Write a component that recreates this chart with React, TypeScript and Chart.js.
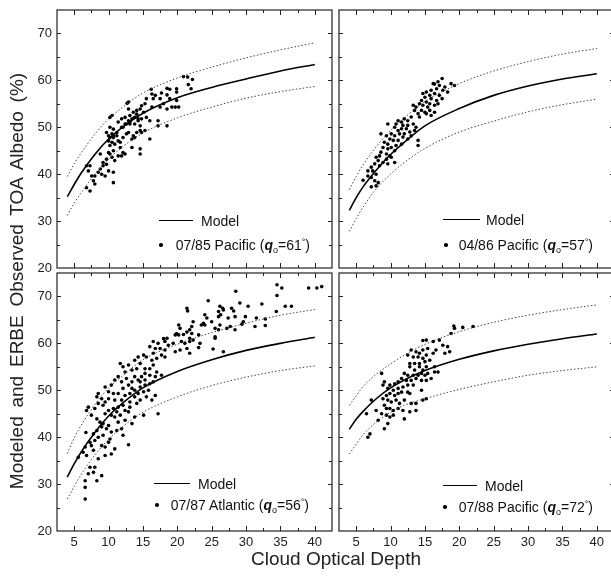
import React, { useEffect, useRef } from 'react';
import { Chart, registerables } from 'chart.js';

Chart.register(...registerables);

// ---------- shared axis data ----------
const MODEL_X = [4, 5, 6, 8, 10, 12, 15, 20, 25, 30, 35, 40];
const X_TICK_LABELS = [5, 10, 15, 20, 25, 30, 35, 40];
const Y_TICK_LABELS = [20, 30, 40, 50, 60, 70];
const X_RANGE = [2.5, 42.5];
const Y_RANGE = [20, 75];

// ---------- 07/85 Pacific (q=61) ----------
const MODEL_85 = [35.2, 37.8, 40.2, 44.2, 47.5, 50.0, 53.0, 56.3, 58.5, 60.3, 62.0, 63.4];
const UPPER_85 = [39.5, 42.2, 44.5, 48.5, 51.8, 54.2, 57.3, 60.5, 62.8, 64.8, 66.5, 68.0];
const LOWER_85 = [31.2, 33.8, 36.0, 40.0, 43.2, 45.8, 48.8, 52.0, 54.3, 56.2, 57.6, 58.7];
const OBS_85: number[][] = [
  [20.9, 60.8], [21.5, 60.7], [22.2, 60.2], [21.6, 59.1], [22.0, 58.2], [16.2, 58.1], [18.5, 58.3], [18.9, 58.1],
  [19.9, 58.2], [19.9, 57.5], [16.3, 57.1], [16.8, 56.8], [17.7, 57.3], [18.5, 56.9], [15.5, 56.1], [16.5, 56.1],
  [17.5, 56.1], [18.9, 56.1], [19.9, 55.7], [19.7, 54.3], [20.2, 54.3], [19.2, 54.3], [18.5, 53.9], [18.0, 55.0],
  [17.5, 54.3], [16.3, 54.3], [15.3, 55.0], [14.8, 54.6], [14.6, 53.9], [15.1, 53.2], [14.1, 53.6], [13.6, 53.2],
  [13.1, 52.5], [12.9, 53.9], [12.7, 55.1], [13.8, 52.1], [14.3, 51.8], [14.8, 51.8], [13.4, 51.8], [12.9, 51.4],
  [12.4, 52.1], [11.9, 51.8], [11.4, 51.1], [12.4, 50.7], [13.1, 50.7], [13.8, 50.7], [14.3, 51.4], [14.6, 50.3],
  [16.0, 51.4], [15.3, 49.3], [14.8, 48.9], [14.1, 48.9], [13.6, 48.2], [13.4, 47.5], [12.9, 48.9], [12.6, 48.6],
  [12.1, 50.0], [11.9, 50.0], [10.7, 49.6], [10.2, 50.0], [10.5, 48.6], [10.7, 48.2], [10.0, 48.2], [10.7, 47.8],
  [11.2, 48.2], [11.4, 47.1], [10.9, 46.4], [10.5, 46.8], [10.2, 46.1], [10.0, 47.1], [11.7, 46.8], [11.7, 45.7],
  [12.1, 44.6], [11.4, 43.9], [10.7, 45.0], [10.2, 44.3], [10.0, 44.6], [10.5, 43.6], [10.9, 42.9], [9.7, 43.2],
  [8.8, 44.3], [9.2, 42.5], [9.7, 42.1], [8.5, 40.4], [8.0, 39.6], [9.0, 40.0], [9.5, 39.6], [10.0, 40.7],
  [10.7, 40.4], [10.7, 38.2], [7.55, 39.6], [6.8, 41.8], [7.06, 40.7], [7.8, 38.6], [8.0, 37.9], [7.3, 36.4],
  [6.8, 37.1], [10.2, 52.1], [10.5, 52.5], [12.6, 50.7], [17.2, 50.3], [18.5, 50.3], [13.4, 45.7], [14.6, 45.4],
  [14.6, 44.3], [16.0, 47.5], [17.2, 51.4], [14.6, 49.3], [13.8, 47.8], [11.9, 43.9], [12.4, 44.3], [7.3, 41.8],
  [8.8, 41.1], [9.2, 41.8], [11.2, 48.9], [12.1, 47.8], [13.1, 51.1], [14.1, 52.8], [15.5, 52.1], [9.7, 48.9],
  [10.2, 47.8], [12.9, 55.4],
];

// ---------- 04/86 Pacific (q=57) ----------
const MODEL_86 = [32.3, 35.0, 37.3, 41.0, 44.2, 46.8, 50.3, 54.0, 56.8, 58.8, 60.3, 61.4];
const UPPER_86 = [36.7, 39.5, 42.0, 46.0, 49.3, 52.0, 55.5, 59.3, 62.0, 64.0, 65.6, 66.8];
const LOWER_86 = [27.8, 30.5, 33.0, 37.0, 40.0, 42.5, 45.5, 49.0, 51.3, 53.3, 54.8, 56.0];
const OBS_86: number[][] = [
  [17.5, 60.4], [16.9, 59.7], [16.4, 59.2], [17.1, 58.9], [17.9, 58.6], [17.6, 57.9], [16.7, 58.2], [15.9, 57.9],
  [15.2, 57.5], [15.7, 56.8], [16.4, 57.2], [17.1, 56.8], [17.5, 56.1], [16.7, 55.7], [15.9, 56.1], [15.0, 56.4],
  [14.5, 55.7], [15.2, 55.4], [15.7, 55.0], [16.4, 54.7], [15.4, 54.3], [14.7, 54.7], [14.2, 55.0], [13.7, 54.3],
  [14.5, 53.6], [15.0, 53.2], [15.7, 53.6], [16.4, 53.2], [14.0, 52.9], [13.5, 53.6], [13.3, 54.7], [18.8, 59.3],
  [19.3, 58.9], [18.3, 57.5], [16.2, 59.3], [14.7, 57.2], [16.9, 55.0], [15.2, 52.9], [14.2, 52.2], [15.9, 52.5],
  [13.0, 52.2], [12.5, 51.4], [12.0, 51.8], [11.6, 51.1], [11.1, 51.4], [11.8, 50.4], [12.5, 50.4], [13.3, 50.7],
  [13.7, 50.0], [12.3, 49.7], [11.6, 49.7], [11.1, 49.3], [10.6, 50.0], [10.8, 50.7], [12.8, 49.0], [12.0, 48.6],
  [11.3, 48.6], [10.6, 48.2], [10.1, 48.6], [9.6, 50.7], [8.6, 48.6], [9.4, 48.2], [9.9, 47.5], [10.4, 47.2],
  [11.1, 47.2], [11.8, 47.9], [12.5, 47.5], [11.6, 46.4], [10.8, 46.1], [10.1, 45.7], [10.6, 45.0], [9.6, 46.4],
  [9.1, 46.8], [8.9, 45.7], [9.6, 45.4], [9.4, 44.3], [9.9, 43.9], [8.6, 44.7], [8.4, 43.9], [7.9, 43.6],
  [8.2, 42.9], [7.7, 42.2], [7.2, 41.5], [6.7, 40.7], [7.4, 40.7], [8.4, 41.8], [8.9, 42.5], [9.4, 43.2],
  [10.1, 43.6], [10.6, 42.5], [9.6, 42.2], [7.9, 40.0], [7.2, 39.3], [7.7, 38.6], [7.9, 37.5], [8.2, 38.2],
  [6.7, 39.6], [14.0, 47.2], [14.0, 46.1], [13.0, 48.2], [13.5, 49.3], [6.0, 38.7], [7.2, 37.3],
];

// ---------- 07/87 Atlantic (q=56) ----------
const MODEL_87 = [31.5, 34.3, 36.8, 41.0, 44.5, 47.2, 50.5, 54.0, 56.5, 58.5, 60.0, 61.3];
const UPPER_87 = [36.5, 39.8, 42.5, 47.0, 50.5, 53.0, 56.5, 59.8, 62.3, 64.3, 66.0, 67.2];
const LOWER_87 = [26.8, 29.5, 32.0, 36.2, 39.5, 42.2, 45.3, 48.6, 51.0, 52.8, 54.2, 55.2];
const OBS_87: number[][] = [
  [16.5, 60.4], [17.2, 60.0], [18.2, 60.4], [18.7, 59.6], [19.4, 60.0], [20.6, 60.4], [21.1, 60.0], [21.8, 60.4],
  [21.4, 58.9], [21.8, 57.9], [20.4, 58.6], [19.7, 58.2], [18.2, 58.6], [17.5, 58.9], [16.8, 58.9], [16.0, 59.3],
  [16.5, 57.9], [17.7, 57.5], [18.2, 57.1], [17.0, 56.8], [16.3, 56.4], [15.5, 57.1], [15.1, 57.5], [14.3, 57.1],
  [13.8, 56.4], [12.9, 55.4], [12.1, 55.0], [11.7, 55.7], [12.4, 53.9], [13.4, 54.3], [14.1, 54.6], [14.6, 55.7],
  [15.3, 54.6], [16.0, 54.6], [16.5, 55.4], [17.0, 53.9], [17.7, 53.2], [16.8, 52.9], [16.0, 53.2], [15.3, 53.6],
  [14.8, 52.9], [14.3, 52.2], [13.8, 52.9], [13.4, 51.8], [12.9, 51.1], [12.6, 52.5], [11.9, 51.8], [11.4, 52.9],
  [10.9, 52.2], [10.4, 51.1], [9.5, 50.7], [8.5, 49.3], [8.3, 48.6], [9.0, 48.2], [9.5, 47.5], [10.0, 48.2],
  [10.9, 47.9], [11.9, 47.9], [12.4, 48.9], [13.1, 49.3], [13.8, 50.0], [13.4, 50.4], [14.6, 50.7], [15.3, 51.1],
  [16.0, 51.4], [16.5, 51.8], [15.8, 50.0], [15.1, 49.7], [14.3, 49.3], [13.8, 48.6], [13.1, 47.5], [12.1, 46.8],
  [11.4, 46.4], [10.7, 46.1], [10.0, 45.7], [9.2, 46.8], [8.5, 47.2], [8.0, 46.1], [7.05, 46.4], [6.8, 45.7],
  [7.5, 44.7], [8.3, 43.9], [8.75, 43.2], [9.2, 42.9], [10.0, 42.5], [9.5, 45.0], [10.4, 44.7], [11.2, 45.4],
  [11.7, 44.7], [12.9, 45.4], [13.8, 44.3], [17.2, 45.0], [15.1, 44.7], [9.7, 41.8], [9.0, 42.2], [8.3, 41.4],
  [7.8, 40.7], [8.5, 40.0], [9.2, 40.4], [10.4, 41.1], [10.2, 39.6], [11.2, 41.4], [12.1, 40.4], [10.0, 38.9],
  [9.5, 37.9], [9.0, 38.2], [8.0, 39.3], [7.5, 38.2], [7.3, 38.9], [6.6, 37.9], [6.3, 36.8], [6.8, 36.1],
  [7.8, 37.2], [9.5, 36.1], [10.4, 36.4], [10.9, 37.5], [12.9, 38.4], [8.5, 35.4], [7.3, 33.6], [8.0, 33.6],
  [7.8, 32.5], [7.05, 32.2], [9.0, 31.8], [8.3, 30.7], [6.6, 30.7], [6.6, 29.3], [6.6, 26.8], [5.6, 35.7],
  [10.9, 44.3], [11.4, 43.2], [12.4, 43.6], [13.4, 42.9], [11.9, 41.8], [10.7, 49.3], [10.0, 49.7], [14.1, 47.2],
  [14.6, 47.9], [15.5, 48.6], [16.3, 47.9], [16.8, 48.9], [13.1, 46.4], [12.4, 45.7], [11.4, 49.3], [12.1, 50.4],
  [14.6, 51.8], [15.3, 52.2], [6.7, 41.0],
  [34.5, 72.5], [35.2, 71.8], [34.5, 70.2], [39.1, 71.8], [40.3, 71.8], [41.0, 72.1], [28.5, 71.1], [24.5, 69.1],
  [21.4, 67.5], [21.5, 66.9], [29.1, 68.6], [30.3, 67.9], [32.3, 68.4], [26.2, 67.9], [26.6, 67.5], [26.7, 67.1],
  [26.0, 66.8], [27.9, 67.5], [28.2, 66.9], [26.3, 66.1], [26.0, 65.7], [24.0, 66.1], [24.3, 65.4], [27.4, 65.4],
  [28.4, 65.7], [29.9, 65.7], [31.5, 65.4], [32.8, 65.2], [34.4, 66.8], [35.7, 67.9], [36.6, 67.9], [22.3, 64.6],
  [23.8, 64.3], [24.0, 63.9], [23.5, 63.9], [25.0, 64.6], [26.2, 63.9], [27.7, 63.6], [28.4, 62.9], [29.6, 64.6],
  [29.4, 64.1], [31.3, 63.6], [20.2, 63.9], [20.4, 63.2], [22.1, 63.6], [21.8, 62.9], [25.5, 63.2], [26.0, 62.9],
  [27.2, 63.2], [25.5, 61.4], [25.5, 61.1], [19.9, 62.1], [19.7, 61.8], [20.2, 61.8], [20.9, 61.9], [21.4, 62.4],
  [22.1, 62.1], [23.1, 61.8], [22.3, 60.7], [21.8, 61.1], [23.3, 60.0], [23.1, 59.1], [25.2, 58.8], [26.7, 58.2],
  [18.5, 61.1], [18.0, 61.0], [32.8, 63.8],
];

// ---------- 07/88 Pacific (q=72) ----------
const MODEL_88 = [41.7, 43.8, 45.5, 48.3, 50.5, 52.2, 54.2, 56.6, 58.4, 59.8, 61.0, 62.0];
const UPPER_88 = [46.8, 48.8, 50.8, 53.5, 55.6, 57.5, 59.8, 62.5, 64.5, 66.0, 67.2, 68.2];
const LOWER_88 = [36.4, 38.5, 40.5, 43.3, 45.3, 46.8, 48.2, 50.2, 51.8, 53.2, 54.2, 55.0];
const OBS_88: number[][] = [
  [19.2, 63.7], [19.3, 63.2], [20.5, 63.4], [22.0, 63.6], [18.8, 62.1], [14.7, 60.6], [15.2, 60.7], [16.2, 60.4],
  [17.1, 60.7], [17.6, 59.6], [18.3, 59.3], [17.9, 57.9], [18.6, 58.2], [16.6, 58.6], [16.2, 57.9], [15.4, 58.9],
  [14.7, 58.6], [14.2, 57.9], [13.7, 58.2], [13.0, 58.6], [12.5, 57.5], [13.3, 57.1], [14.0, 57.1], [14.7, 56.8],
  [15.2, 57.5], [15.7, 56.4], [15.0, 56.1], [14.2, 55.7], [13.5, 55.7], [12.8, 55.7], [16.4, 55.0], [15.2, 55.0],
  [14.7, 54.3], [14.2, 55.0], [13.5, 54.3], [12.8, 55.0], [12.0, 53.6], [12.5, 53.2], [13.3, 53.2], [14.0, 53.2],
  [14.5, 53.6], [15.0, 53.2], [15.4, 53.6], [16.4, 53.9], [16.9, 53.9], [15.9, 52.5], [15.2, 52.1], [14.5, 52.1],
  [13.7, 52.5], [13.0, 52.1], [12.3, 52.1], [11.6, 52.5], [11.1, 51.8], [10.6, 51.4], [9.9, 51.1], [9.1, 51.8],
  [8.9, 51.1], [9.6, 50.4], [10.4, 50.0], [11.1, 50.4], [11.8, 50.7], [12.5, 51.1], [13.3, 51.1], [11.6, 49.6],
  [12.5, 49.6], [12.8, 49.3], [14.5, 50.0], [11.1, 49.3], [10.6, 48.9], [9.9, 49.3], [9.4, 48.9], [8.9, 48.2],
  [9.6, 47.9], [10.1, 47.5], [10.8, 47.9], [11.3, 47.2], [12.0, 47.9], [13.0, 47.2], [13.7, 47.2], [14.7, 47.9],
  [15.2, 48.2], [9.1, 46.8], [9.4, 46.1], [9.9, 46.1], [10.4, 45.7], [11.1, 46.1], [11.8, 45.7], [12.8, 45.4],
  [13.7, 45.7], [8.7, 45.0], [9.4, 44.7], [9.9, 44.3], [10.4, 44.7], [12.0, 43.9], [7.9, 45.7], [8.2, 43.6],
  [7.2, 47.9], [8.7, 53.6], [9.6, 42.9], [9.1, 41.8], [7.0, 40.7], [6.7, 40.0], [6.5, 45.0],
];

type Panel = {
  left: number; top: number; yLabels: boolean; xLabels: boolean;
  model: number[]; upper: number[]; lower: number[]; obs: number[][];
  legend: { lx1: number; lx2: number; ly: number; mx: number; dx: number; dy: number; textRight: number;
    prefix: string; angle: string };
};

const PANELS: Panel[] = [
  { left: 57, top: 10, yLabels: true, xLabels: false, model: MODEL_85, upper: UPPER_85, lower: LOWER_85, obs: OBS_85,
    legend: { lx1: 159, lx2: 193, ly: 221, mx: 201, dx: 161, dy: 245, textRight: 310, prefix: '07/85 Pacific (', angle: '61' } },
  { left: 339, top: 10, yLabels: false, xLabels: false, model: MODEL_86, upper: UPPER_86, lower: LOWER_86, obs: OBS_86,
    legend: { lx1: 443, lx2: 480, ly: 220, mx: 486, dx: 446, dy: 245, textRight: 593, prefix: '04/86 Pacific (', angle: '57' } },
  { left: 57, top: 273, yLabels: true, xLabels: true, model: MODEL_87, upper: UPPER_87, lower: LOWER_87, obs: OBS_87,
    legend: { lx1: 154, lx2: 190, ly: 484, mx: 198, dx: 157, dy: 505, textRight: 309, prefix: '07/87 Atlantic (', angle: '56' } },
  { left: 339, top: 273, yLabels: false, xLabels: true, model: MODEL_88, upper: UPPER_88, lower: LOWER_88, obs: OBS_88,
    legend: { lx1: 443, lx2: 477, ly: 486, mx: 485, dx: 445, dy: 507, textRight: 593, prefix: '07/88 Pacific (', angle: '72' } },
];

const FONT = '"Liberation Sans", Arial, Helvetica, sans-serif';
const PW = 275; // plot width
const PH = 258; // plot height
const PAD_L = 80, PAD_T = 20, PAD_R = 20, PAD_B = 60;

const framePlugin = {
  id: 'frameTicks',
  afterDatasetsDraw(chart: any) {
    const { ctx, chartArea: a, scales } = chart;
    const xs = scales.x, ys = scales.y;
    ctx.save();
    ctx.strokeStyle = '#222';
    ctx.lineWidth = 1.2;
    ctx.strokeRect(a.left, a.top, a.right - a.left, a.bottom - a.top);
    ctx.lineWidth = 1;
    ctx.beginPath();
    for (let v = X_RANGE[0] + 2.5; v < X_RANGE[1] - 0.01; v += 2.5) {
      const px = Math.round(xs.getPixelForValue(v)) + 0.5;
      const len = Math.abs(v % 5) < 0.01 ? 5 : 3;
      ctx.moveTo(px, a.top); ctx.lineTo(px, a.top + len);
      ctx.moveTo(px, a.bottom); ctx.lineTo(px, a.bottom - len);
    }
    for (let v = Y_RANGE[0] + 5; v < Y_RANGE[1] - 0.01; v += 5) {
      const py = Math.round(ys.getPixelForValue(v)) + 0.5;
      const len = Math.abs(v % 10) < 0.01 ? 4 : 3;
      ctx.moveTo(a.left, py); ctx.lineTo(a.left + len, py);
      ctx.moveTo(a.right, py); ctx.lineTo(a.right - len, py);
    }
    ctx.stroke();
    ctx.restore();
  },
};

function PanelChart({ p }: { p: Panel }) {
  const ref = useRef<HTMLCanvasElement>(null);
  const cw = PAD_L + PW + PAD_R;
  const chH = PAD_T + PH + PAD_B;
  useEffect(() => {
    const yW = p.yLabels ? 57 : 0;
    const xH = p.xLabels ? 40 : 0;
    const curve = (vals: number[], dash: number[] | undefined, width: number, color: string) => ({
      type: 'line' as const,
      data: MODEL_X.map((x, i) => ({ x, y: vals[i] })),
      borderColor: color,
      borderWidth: width,
      borderDash: dash,
      pointRadius: 0,
      fill: false,
      cubicInterpolationMode: 'monotone' as const,
      clip: false as any,
    });
    const chart = new Chart(ref.current!, {
      type: 'scatter',
      data: {
        datasets: [
          curve(p.model, undefined, 1.6, '#000'),
          curve(p.upper, [1.5, 2], 1, '#444'),
          curve(p.lower, [1.5, 2], 1, '#444'),
          {
            type: 'scatter',
            data: p.obs.map(([x, y]) => ({ x, y })),
            pointRadius: 1.8,
            pointBackgroundColor: '#000',
            pointBorderWidth: 0,
            showLine: false,
          } as any,
        ],
      },
      options: {
        responsive: false,
        animation: false,
        devicePixelRatio: 1,
        events: [],
        layout: { padding: { left: PAD_L - yW, top: PAD_T, right: PAD_R, bottom: PAD_B - xH } },
        plugins: { legend: { display: false }, tooltip: { enabled: false }, title: { display: false } },
        scales: {
          x: {
            type: 'linear',
            min: X_RANGE[0],
            max: X_RANGE[1],
            grid: { display: false, drawTicks: false },
            border: { display: false },
            ticks: { display: p.xLabels, font: { family: FONT, size: 13 }, color: '#222', padding: 4, maxRotation: 0, autoSkip: false },
            afterBuildTicks: (s: any) => { s.ticks = X_TICK_LABELS.map((v) => ({ value: v })); },
            afterFit: (s: any) => { s.height = xH; },
          },
          y: {
            type: 'linear',
            min: Y_RANGE[0],
            max: Y_RANGE[1],
            grid: { display: false, drawTicks: false },
            border: { display: false },
            ticks: { display: p.yLabels, font: { family: FONT, size: 13 }, color: '#222', padding: 5, autoSkip: false },
            afterBuildTicks: (s: any) => { s.ticks = Y_TICK_LABELS.map((v) => ({ value: v })); },
            afterFit: (s: any) => { s.width = yW; },
          },
        },
      } as any,
      plugins: [framePlugin],
    });
    return () => chart.destroy();
  }, [p]);
  return (
    <canvas
      ref={ref}
      width={cw}
      height={chH}
      style={{ position: 'absolute', left: p.left - PAD_L, top: p.top - PAD_T, width: cw, height: chH }}
    />
  );
}

function Legend({ p }: { p: Panel }) {
  const L = p.legend;
  const txt: React.CSSProperties = { position: 'absolute', fontSize: 14, lineHeight: '16px', color: '#111', whiteSpace: 'nowrap' };
  return (
    <>
      <div style={{ position: 'absolute', left: L.lx1, top: L.ly - 0.75, width: L.lx2 - L.lx1, height: 0, borderTop: '1.5px solid #000' }} />
      <div style={{ ...txt, left: L.mx, top: L.ly - 8 }}>Model</div>
      <div style={{ position: 'absolute', left: L.dx - 1.8, top: L.dy - 1.8, width: 3.6, height: 3.6, borderRadius: '50%', background: '#000' }} />
      <div style={{ ...txt, right: 611 - L.textRight, top: L.dy - 8 }}>
        {L.prefix}
        <b><i>q</i></b>
        <span style={{ fontSize: 9, position: 'relative', top: 3 }}>o</span>
        ={L.angle}
        <span style={{ fontSize: 9, position: 'relative', top: -5 }}>°</span>)
      </div>
    </>
  );
}

export default function App() {
  useEffect(() => {
    document.body.style.margin = '0';
  }, []);
  return (
    <div style={{ position: 'relative', width: 611, height: 579, overflow: 'hidden', background: '#fff', fontFamily: FONT }}>
      {PANELS.map((p, i) => (
        <PanelChart key={i} p={p} />
      ))}
      {PANELS.map((p, i) => (
        <Legend key={'l' + i} p={p} />
      ))}
      <div
        style={{
          position: 'absolute', left: 17 - 250, top: 281 - 10, width: 500, height: 20, lineHeight: '20px',
          fontSize: 19, color: '#222', textAlign: 'center', whiteSpace: 'nowrap', wordSpacing: 3.5,
          transform: 'rotate(-90deg)', transformOrigin: '50% 50%',
        }}
      >
        Modeled and ERBE Observed TOA Albedo (%)
      </div>
      <div
        style={{
          position: 'absolute', left: 0, width: 672, top: 549, lineHeight: '19px', fontSize: 19, color: '#222',
          textAlign: 'center', whiteSpace: 'nowrap',
        }}
      >
        Cloud Optical Depth
      </div>
    </div>
  );
}
